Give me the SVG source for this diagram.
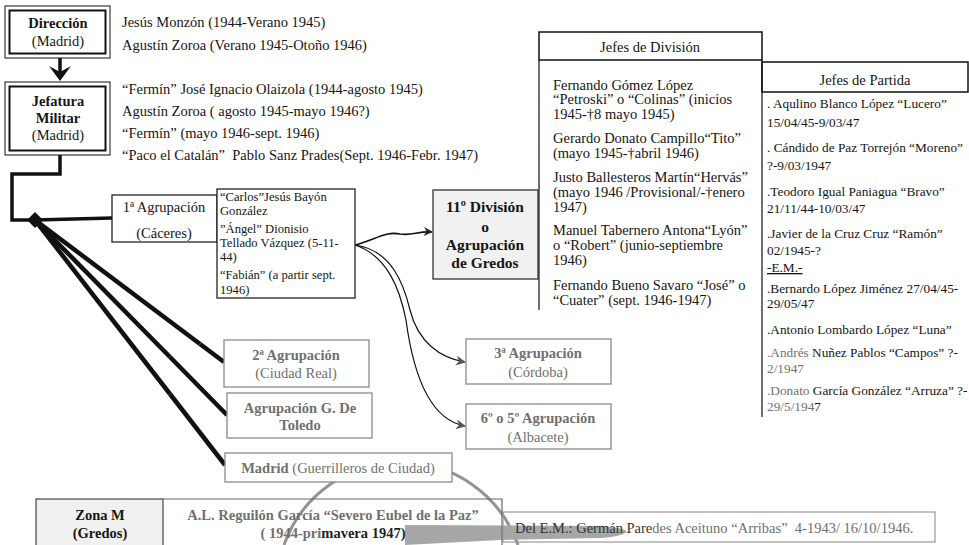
<svg xmlns="http://www.w3.org/2000/svg" width="969" height="545" viewBox="0 0 969 545" font-family="'Liberation Serif', 'Times New Roman', serif">
<defs>
<style>
text{font-family:"Liberation Serif","Times New Roman",serif;font-size:14.5px;fill:#151515}
.b{font-weight:bold}
.g{fill:#707070}
.s{font-size:12.6px}
.p{font-size:13.3px}
.m{text-anchor:middle}
.box{fill:#fff;stroke:#222;stroke-width:1.3}
.gbox{fill:#fff;stroke:#8a8a8a;stroke-width:1.3}
.dbl{fill:none;stroke:#111}
.line{fill:none;stroke:#111;stroke-linecap:butt}
</style>
<marker id="ah" viewBox="0 0 10 10" refX="9" refY="5" markerWidth="9" markerHeight="9" markerUnits="userSpaceOnUse" orient="auto">
<path d="M0,0 L10,5 L0,10 L3,5 Z" fill="#222"/>
</marker>
<marker id="ahg" viewBox="0 0 10 10" refX="9" refY="5" markerWidth="10" markerHeight="10" markerUnits="userSpaceOnUse" orient="auto">
<path d="M0,0 L10,5 L0,10 L3,5 Z" fill="#555"/>
</marker>
</defs>
<rect width="969" height="545" fill="#fff"/>

<!-- stamp (background) -->
<g id="stamp" opacity="0.75">
<path d="M284,545 A124,124 0 0 1 518,545" fill="none" stroke="#6f6f6f" stroke-width="3"/>
<path d="M405,525 L600,526 Q626,528 627,532 Q620,537 600,538 L500,540 L405,545 Z" fill="#8a8a8a"/>
</g>

<g id="connectors">
<path class="line" d="M60,58 V72" stroke-width="3.5"/>
<path d="M49,66 L60,81 L71,66 L60,72 Z" fill="#111"/>
<path class="line" d="M60,155 V174 H12 V220 H35" stroke-width="3.5"/>
<path class="line" d="M35,220 L112,218" stroke-width="3.5"/>
<path class="line" d="M35,220 L200,344" stroke-width="4.5"/>
<path class="line" d="M200,344 L224,362" stroke="#555" stroke-width="4.5"/>
<path class="line" d="M35,220 L170,357" stroke-width="4.5"/>
<path class="line" d="M170,357 L227,415" stroke="#555" stroke-width="4.5"/>
<path class="line" d="M35,220 L170,394" stroke-width="4.5"/>
<path class="line" d="M170,394 L225,465" stroke="#555" stroke-width="4.5"/>
<path d="M35,212 L43,220 L35,228 L27,220 Z" fill="#111"/>
<path class="line" d="M355,245 C375,240 385,231 400,234 C412,236 418,231 432,232" stroke-width="1.6" marker-end="url(#ah)"/>
<path class="line" d="M355,245 C392,250 404,285 410,310 C418,342 440,358 465,362" stroke="#444" stroke-width="1.2" marker-end="url(#ahg)"/>
<path class="line" d="M355,245 C388,256 400,290 406,320 C414,380 432,420 465,426" stroke="#444" stroke-width="1.2" marker-end="url(#ahg)"/>
</g>

<g id="direccion">
<rect x="5" y="6" width="105" height="52" class="dbl" stroke-width="1"/>
<rect x="9.5" y="10.5" width="96" height="43" class="dbl" stroke-width="2"/>
<text x="58" y="28" class="m b">Dirección</text>
<text x="58" y="46" class="m">(Madrid)</text>
</g>
<g id="direccion-names">
<text x="122" y="27">Jesús Monzón (1944-Verano 1945)</text>
<text x="122" y="50">Agustín Zoroa (Verano 1945-Otoño 1946)</text>
</g>

<g id="jefatura">
<rect x="5" y="82" width="105" height="73" class="dbl" stroke-width="1"/>
<rect x="9.5" y="86.5" width="96" height="64" class="dbl" stroke-width="2"/>
<text x="58" y="106" class="m b">Jefatura</text>
<text x="58" y="123" class="m b">Militar</text>
<text x="58" y="140" class="m">(Madrid)</text>
</g>
<g id="jefatura-names">
<text x="122" y="94">“Fermín” José Ignacio Olaizola (1944-agosto 1945)</text>
<text x="122" y="116">Agustín Zoroa ( agosto 1945-mayo 1946?)</text>
<text x="122" y="138">“Fermín” (mayo 1946-sept. 1946)</text>
<text x="122" y="160" xml:space="preserve">“Paco el Catalán”  Pablo Sanz Prades(Sept. 1946-Febr. 1947)</text>
</g>

<g id="agrupacion1">
<rect x="112" y="195" width="105" height="47" class="box"/>
<text x="164" y="212" class="m">1ª Agrupación</text>
<text x="164" y="238" class="m">(Cáceres)</text>
</g>
<g id="agrupacion1-jefes">
<rect x="217" y="189" width="138" height="109" class="box"/>
<text x="220" y="201" class="s">“Carlos”Jesús Bayón</text>
<text x="220" y="215" class="s">González</text>
<text x="220" y="233" class="s">”Ángel” Dionisio</text>
<text x="220" y="247" class="s">Tellado Vázquez (5-11-</text>
<text x="220" y="261" class="s">44)</text>
<text x="220" y="279" class="s">“Fabián” (a partir sept.</text>
<text x="220" y="294" class="s">1946)</text>
</g>

<g id="division11">
<rect x="433" y="190" width="105" height="89" fill="#f1f1f1" stroke="#333" stroke-width="1.3"/>
<text x="485" y="212" class="m b" style="font-size:15.5px">11º División</text>
<text x="485" y="232" class="m b" style="font-size:15.5px">o</text>
<text x="485" y="250" class="m b" style="font-size:15.5px">Agrupación</text>
<text x="485" y="268" class="m b" style="font-size:15.5px">de Gredos</text>
</g>

<g id="jefes-division">
<rect x="539" y="32" width="223" height="28" fill="none" stroke="#111" stroke-width="1.5"/>
<path d="M539,60 V310 M762,60 V417" fill="none" stroke="#222" stroke-width="1.3"/>
<text x="650" y="52" class="m">Jefes de División</text>
<text x="553" y="90">Fernando Gómez López</text>
<text x="553" y="104">“Petroski” o “Colinas” (inicios</text>
<text x="553" y="119">1945-†8 mayo 1945)</text>
<text x="553" y="143">Gerardo Donato Campillo“Tito”</text>
<text x="553" y="158">(mayo 1945-†abril 1946)</text>
<text x="553" y="182">Justo Ballesteros Martín“Hervás”</text>
<text x="553" y="197">(mayo 1946 /Provisional/-†enero</text>
<text x="553" y="212">1947)</text>
<text x="553" y="235">Manuel Tabernero Antona“Lyón”</text>
<text x="553" y="250">o “Robert” (junio-septiembre</text>
<text x="553" y="265">1946)</text>
<text x="553" y="290">Fernando Bueno Savaro “José” o</text>
<text x="553" y="305">“Cuater” (sept. 1946-1947)</text>
</g>

<g id="jefes-partida">
<rect x="762" y="62" width="206" height="30" fill="none" stroke="#111" stroke-width="1.5"/>
<text x="865" y="85" class="m">Jefes de Partida</text>
<text x="767" y="108" class="p">. Aqulino Blanco López “Lucero”</text>
<text x="767" y="127" class="p">15/04/45-9/03/47</text>
<text x="767" y="152" class="p">. Cándido de Paz Torrejón “Moreno”</text>
<text x="767" y="170" class="p">?-9/03/1947</text>
<text x="767" y="196" class="p">.Teodoro Igual Paniagua “Bravo”</text>
<text x="767" y="213" class="p">21/11/44-10/03/47</text>
<text x="767" y="238" class="p">.Javier de la Cruz Cruz “Ramón”</text>
<text x="767" y="255" class="p">02/1945-?</text>
<text x="767" y="272" class="p" text-decoration="underline">-E.M.-</text>
<text x="767" y="293" class="p"> .Bernardo López Jiménez 27/04/45-</text>
<text x="767" y="308" class="p">29/05/47</text>
<text x="767" y="334" class="p">.Antonio Lombardo López “Luna”</text>
<text x="767" y="357" class="p"><tspan class="g">.Andrés </tspan>Nuñez Pablos “Campos” ?-</text>
<text x="767" y="373" class="p g">2/1947</text>
<text x="767" y="395" class="p"><tspan class="g">.Donato </tspan>García González “Arruza” ?-</text>
<text x="767" y="411" class="p"><tspan class="g">29/5/194</tspan>7</text>
</g>

<g id="agrupacion2">
<rect x="224" y="340" width="145" height="47" class="gbox"/>
<text x="296" y="360" class="m b g">2ª Agrupación</text>
<text x="296" y="378" class="m g">(Ciudad Real)</text>
</g>
<g id="agrupacion-toledo">
<rect x="227" y="393" width="145" height="45" class="gbox"/>
<text x="300" y="413" class="m b g">Agrupación G. De</text>
<text x="300" y="430" class="m b g">Toledo</text>
</g>
<g id="madrid">
<rect x="225" y="453" width="227" height="29" class="gbox"/>
<text x="338" y="473" class="m g"><tspan class="b">Madrid</tspan> (Guerrilleros de Ciudad)</text>
</g>
<g id="agrupacion3">
<rect x="466" y="339" width="145" height="45" class="gbox"/>
<text x="538" y="358" class="m b g">3ª Agrupación</text>
<text x="538" y="377" class="m g">(Córdoba)</text>
</g>
<g id="agrupacion6">
<rect x="466" y="404" width="145" height="45" class="gbox"/>
<text x="538" y="423" class="m b g">6º o 5º Agrupación</text>
<text x="538" y="442" class="m g">(Albacete)</text>
</g>

<g id="zona-m">
<rect x="36" y="499" width="127" height="50" fill="#f0f0f0" stroke="#444" stroke-width="1.2"/>
<path d="M163,499 H502 V549" fill="none" stroke="#666" stroke-width="1.2"/>
<text x="100" y="520" class="m b">Zona M</text>
<text x="100" y="538" class="m b">(Gredos)</text>
<text x="333" y="520" class="m b g">A.L. Reguilón García “Severo Eubel de la Paz”</text>
<text x="333" y="538" class="m b g">( 1944-pri<tspan fill="#222">mavera 1947)</tspan></text>
</g>
<g id="del-em">
<rect x="503" y="512" width="432" height="30" fill="none" stroke="#999" stroke-width="1.2"/>
<text x="515" y="533" class="g" xml:space="preserve"><tspan fill="#333">Del E.M.: Germán Pare</tspan>des Aceituno “Arribas”  4-1943/ 16/10/1946.</text>
</g>
</svg>
